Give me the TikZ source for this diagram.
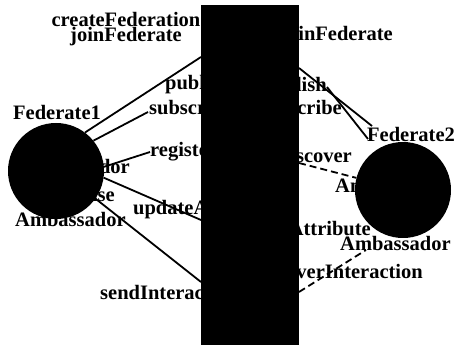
\documentclass[tikz,border=0pt]{standalone}
\usepackage{fontspec}
\setmainfont{Liberation Serif}
\begin{document}
\begin{tikzpicture}[x=1pt,y=-1pt,
  lab/.style={font=\bfseries\fontsize{20.5}{21}\selectfont, inner sep=0pt, text=black},
  conn/.style={line width=1.8pt, black},
  cb/.style={line width=1.8pt, black, dash pattern=on 7pt off 4pt},
  fed/.style={circle, fill=black, minimum size=96pt, inner sep=0pt}]
\useasboundingbox (0,0) rectangle (459,345);
% federates
\node[fed] (f1) at (56,171) {};
\node[fed] (f2) at (403,190) {};
% left labels
\node[lab, align=center, font=\bfseries\fontsize{20.5}{15.5}\selectfont] (cf) at (126,29) {createFederation\\joinFederate};
\node[lab, anchor=west] (pub1) at (165,85) {publish};
\node[lab, anchor=west] (sub1) at (149,108) {subscribe};
\node[lab, anchor=west] (reg1) at (150,152) {register};
\node[lab, anchor=west] (upd1) at (133,210) {updateAttribute};
\node[lab, anchor=west] (snd1) at (100,292) {sendInteraction};
\node[lab, anchor=west] (fn1) at (13,112) {Federate1};
\node[lab, anchor=east] (amb1a) at (130,166) {Ambassador};
\node[lab, anchor=east] (rsp1) at (115,197) {Response};
\node[lab, anchor=west] (amb1b) at (15,219) {Ambassador};
% right labels
\node[lab, anchor=east] (jf2) at (393,36) {joinFederate};
\node[lab, anchor=east] (pub2) at (327,87) {publish};
\node[lab, anchor=east] (sub2) at (342,108) {subscribe};
\node[lab, anchor=east] (dis2) at (352,155) {discover};
\node[lab, anchor=east] (ref2) at (371,228) {reflectAttribute};
\node[lab, anchor=east] (rcv2) at (423,271) {deliverInteraction};
\node[lab, anchor=west] (fn2) at (367,134) {Federate2};
\node[lab, anchor=west] (amb2a) at (335,185) {Ambassador};
\node[lab, anchor=west] (amb2b) at (340,243) {Ambassador};
% end points on RTI edge
\coordinate (e1) at (201,57);
\coordinate (e2) at (201,220);
\coordinate (e3) at (201,282);
\coordinate (s1) at (148,112);
\coordinate (g1) at (299,68);
\coordinate (g2) at (299,163);
\coordinate (g3) at (299,292);
\coordinate (h1) at (372,126);
\coordinate (h2) at (368,139);
\coordinate (h3) at (366,250);
% left connectors
\draw[conn] (f1.53) -- (e1);
\draw[conn] (f1.39) -- (s1);
\draw[conn] (f1.5) -- (reg1.west);
\draw[conn] (f1.-8) -- (e2);
\draw[conn] (f1.-35) -- (e3);
% right connectors
\draw[conn] (g1) -- (h1);
\draw[conn] (pub2.east) -- (h2);
\draw[cb] (g2) -- (f2);
\draw[cb] (g3) -- (h3);
% RTI
\node[fill=black, inner sep=0pt, minimum width=98pt, minimum height=340pt, anchor=north west] (rti) at (201,5) {};
\end{tikzpicture}
\end{document}
